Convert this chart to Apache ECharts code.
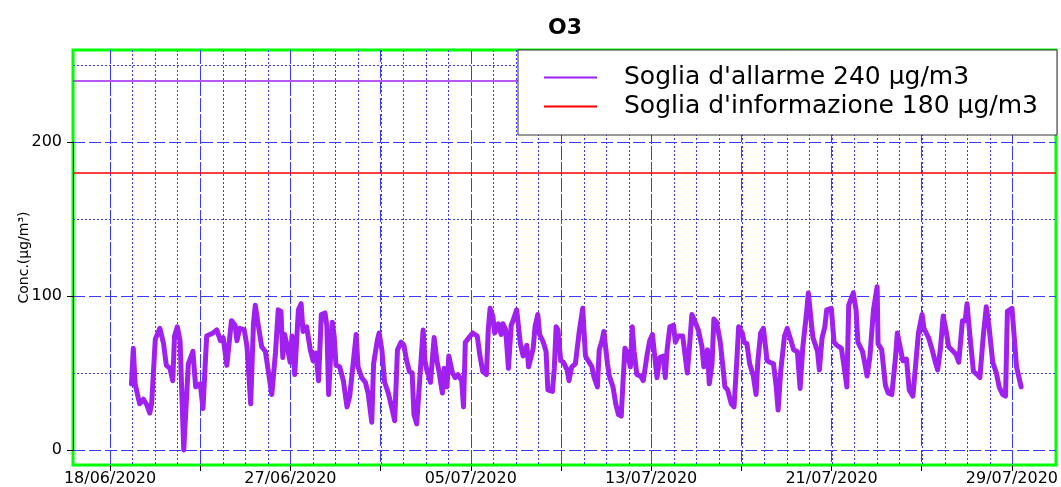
<!DOCTYPE html>
<html>
<head>
<meta charset="utf-8">
<title>O3</title>
<script src="https://cdn.jsdelivr.net/npm/echarts@6/dist/echarts.min.js"></script>
<style>
  html, body { margin: 0; padding: 0; background: #fff; }
  #chart { width: 1061px; height: 487px; }
</style>
</head>
<body>
<div id="chart"></div>
<script>
// ore trascorse dal 18/06/2020 00:00
const hours = [
  45, 47, 49, 52, 54, 58, 62, 65, 67, 71, 76, 80, 83, 87, 90, 92, 95, 98, 100, 102,
  107, 112, 115, 120, 123, 127, 134, 138, 142, 145, 149, 154, 158, 160, 163, 168, 171, 175, 178, 180,
  183, 187, 191, 194, 198, 202, 205, 208, 210, 212, 215, 218, 220, 223, 227, 230, 232, 236, 240, 243,
  246, 249, 252, 256, 258, 260, 264, 266, 268, 272, 276, 280, 283, 287, 290, 292, 296, 300, 303, 307,
  309, 313, 315, 318, 321, 325, 329, 332, 335, 339, 342, 345, 348, 351, 353, 356, 363, 365, 367, 371,
  373, 375, 378, 380, 384, 386, 389, 391, 395, 398, 401, 405, 407, 409, 413, 417, 422, 425, 428, 432,
  434, 436, 439, 441, 445, 448, 450, 453, 456, 459, 461, 465, 469, 472, 476, 478, 483, 485, 488, 490,
  494, 497, 499, 504, 506, 508, 510, 513, 516, 520, 522, 525, 529, 533, 537, 540, 543, 547, 549, 553,
  555, 558, 560, 564, 566, 570, 573, 576, 579, 581, 583, 585, 589, 591, 593, 596, 600, 603, 607, 610,
  613, 616, 618, 621, 625, 627, 629, 632, 636, 638, 641, 646, 651, 653, 656, 659, 663, 667, 669, 673,
  675, 678, 680, 683, 687, 690, 692, 695, 699, 702, 705, 707, 711, 713, 716, 719, 723, 726, 728, 731,
  734, 738, 741, 745, 748, 750, 753, 757, 760, 764, 767, 771, 774, 777, 781, 783, 786, 788, 793, 795,
  798, 801, 803, 808, 811, 814, 819, 822, 825, 827, 832, 835, 837, 842, 844, 847, 850, 854, 858, 859,
  863, 867, 870, 874, 878, 880, 883, 886, 890, 893, 897, 899, 903, 907, 909, 914, 918, 921, 924, 927,
  930, 933, 936, 941, 944, 947, 951, 954, 956, 959, 963, 967, 970, 974, 977, 980, 984, 988, 991, 995,
  998, 1000, 1005, 1007, 1010, 1012, 1015
]
// concentrazione O3 (µg/m3)
const o3 = [
  43, 66, 43, 35, 30, 33, 29, 24, 30, 72, 79, 69, 55, 53, 45, 74, 80, 71, 35, 0,
  56, 64, 41, 43, 27, 74, 76, 78, 71, 73, 55, 84, 81, 71, 79, 78, 67, 30, 82, 94,
  82, 67, 64, 52, 36, 63, 91, 90, 60, 75, 67, 57, 74, 49, 91, 95, 77, 80, 65, 58,
  63, 45, 88, 89, 81, 36, 83, 74, 55, 54, 45, 28, 35, 58, 75, 54, 47, 44, 37, 18,
  56, 71, 76, 65, 44, 37, 27, 19, 65, 70, 68, 58, 51, 50, 23, 17, 78, 58, 52, 44,
  43, 73, 58, 52, 37, 53, 41, 61, 50, 47, 49, 45, 28, 70, 73, 76, 74, 61, 51, 49,
  78, 92, 87, 76, 82, 75, 82, 78, 53, 81, 84, 91, 69, 61, 68, 54, 66, 80, 88, 75,
  70, 64, 39, 38, 53, 80, 78, 58, 57, 52, 45, 54, 56, 76, 92, 61, 58, 54, 48, 41,
  65, 71, 77, 56, 48, 41, 30, 23, 22, 45, 66, 64, 54, 80, 64, 49, 48, 45, 61, 71,
  75, 58, 47, 60, 61, 47, 65, 80, 81, 70, 74, 74, 50, 64, 88, 84, 78, 67, 54, 65,
  43, 56, 85, 83, 70, 53, 41, 39, 30, 28, 58, 80, 76, 70, 69, 56, 48, 36, 58, 76,
  79, 58, 57, 56, 41, 26, 52, 74, 79, 71, 65, 64, 40, 67, 89, 102, 84, 73, 64, 52,
  73, 80, 91, 92, 70, 68, 66, 54, 41, 94, 102, 91, 70, 64, 58, 48, 60, 91, 106, 69,
  65, 42, 37, 36, 60, 76, 67, 58, 59, 39, 35, 34, 76, 88, 79, 73, 65, 58, 52, 66,
  87, 78, 67, 64, 62, 57, 84, 84, 95, 75, 51, 49, 47, 76, 93, 80, 57, 50, 41, 36,
  35, 90, 92, 93, 54, 53, 41
]
const sogliaAllarme = 240
const sogliaInformazione = 180
const dateLabels = ['18/06/2020', '27/06/2020', '05/07/2020', '13/07/2020', '21/07/2020', '29/07/2020']

// asse x: prima etichetta a 21.6 h, passo 8.2 giorni
const firstTick = 21.6
const tickStep = 196.8
const lastTick = Math.round((firstTick + tickStep * (dateLabels.length - 1)) * 10) / 10

const gridColor = '#3a3aff'
const font = 'DejaVu Sans'

// griglia con le sole linee verticali (stesso rettangolo per i due assi)
const vGrid = { left: 110, right: 48.5, top: 50, bottom: 22 }

const chart = echarts.init(document.getElementById('chart'))

chart.setOption({
  animation: false,
  title: {
    text: 'O3',
    left: 565,
    top: 17,
    padding: 0,
    textAlign: 'center',
    textStyle: { fontFamily: font, fontSize: 22, fontWeight: 'bold', color: '#000' }
  },
  legend: {
    data: ["Soglia d'allarme 240 µg/m3", "Soglia d'informazione 180 µg/m3"],
    orient: 'vertical',
    left: 518,
    top: 50,
    z: 10,
    padding: [13, 19, 14, 26],
    itemGap: 0,
    itemWidth: 53,
    itemHeight: 2,
    icon: 'rect',
    backgroundColor: '#fff',
    borderColor: '#333',
    borderWidth: 1,
    selectedMode: false,
    textStyle: {
      fontFamily: font,
      fontSize: 25,
      lineHeight: 29,
      color: '#000',
      padding: [0, 0, 0, 22]
    }
  },
  grid: [
    // dati
    { left: 73, right: 5, top: 50, bottom: 22, show: true, borderColor: '#00ff00', borderWidth: 3 },
    // linee verticali punteggiate
    vGrid,
    // linee tratteggiate 0/100/200
    { left: 73, right: 5, top: 142, bottom: 37 },
    // linee punteggiate 50/150/250
    { left: 73, right: 5, top: 65, bottom: 114 },
    // linee verticali tratteggiate + date
    vGrid
  ],
  xAxis: [
    { gridIndex: 0, type: 'value', min: -18.74, max: 1053.0, show: false },
    {
      gridIndex: 1,
      type: 'value',
      min: firstTick,
      max: lastTick,
      interval: tickStep / 8,
      axisLine: { show: false },
      axisTick: { show: false },
      axisLabel: { show: false },
      splitLine: { show: true, lineStyle: { color: gridColor, type: [2, 2], width: 1 } }
    },
    { gridIndex: 2, type: 'value', show: false },
    { gridIndex: 3, type: 'value', show: false },
    {
      gridIndex: 4,
      type: 'value',
      min: firstTick,
      max: lastTick,
      interval: tickStep / 2,
      axisLine: { show: false },
      axisTick: { show: true, length: 6, lineStyle: { color: '#000' } },
      axisLabel: {
        formatter: (v, i) => (i % 2 === 0 ? dateLabels[i / 2] : ''),
        fontFamily: font,
        fontSize: 16,
        color: '#000',
        margin: 6
      },
      splitLine: { show: true, lineStyle: { color: gridColor, type: [12, 4], width: 1 } }
    }
  ],
  yAxis: [
    {
      gridIndex: 0,
      type: 'value',
      min: -9.74,
      max: 259.74,
      axisLine: { show: false },
      axisTick: { show: false },
      axisLabel: { show: false },
      splitLine: { show: false },
      name: 'Conc.(µg/m³)',
      nameLocation: 'middle',
      nameGap: 42,
      nameTextStyle: { fontFamily: font, fontSize: 14, color: '#000' }
    },
    { gridIndex: 1, type: 'value', show: false },
    {
      gridIndex: 2,
      type: 'value',
      min: 0,
      max: 200,
      interval: 100,
      axisLine: { show: true, lineStyle: { color: '#000', width: 1 } },
      axisTick: { show: true, length: 6, lineStyle: { color: '#000' } },
      axisLabel: { fontFamily: font, fontSize: 16, color: '#000', margin: 11 },
      splitLine: { show: true, lineStyle: { color: gridColor, type: [12, 4], width: 1 } }
    },
    {
      gridIndex: 3,
      type: 'value',
      min: 50,
      max: 250,
      interval: 100,
      axisLine: { show: false },
      axisTick: { show: false },
      axisLabel: { show: false },
      splitLine: { show: true, lineStyle: { color: gridColor, type: [2, 2], width: 1 } }
    },
    { gridIndex: 4, type: 'value', show: false }
  ],
  series: [
    {
      name: 'O3',
      type: 'line',
      xAxisIndex: 0,
      yAxisIndex: 0,
      data: hours.map((h, i) => [h, o3[i]]),
      showSymbol: false,
      symbol: 'none',
      lineStyle: { color: '#a020f0', width: 5, join: 'round', cap: 'round' },
      itemStyle: { color: '#a020f0' },
      z: 3
    },
    {
      name: "Soglia d'allarme 240 µg/m3",
      type: 'line',
      xAxisIndex: 0,
      yAxisIndex: 0,
      data: [],
      symbol: 'none',
      itemStyle: { color: '#a020f0' },
      markLine: {
        silent: true,
        symbol: 'none',
        z: 2,
        label: { show: false },
        lineStyle: { color: '#a020f0', type: 'solid', width: 1.5 },
        data: [{ yAxis: sogliaAllarme }]
      }
    },
    {
      name: "Soglia d'informazione 180 µg/m3",
      type: 'line',
      xAxisIndex: 0,
      yAxisIndex: 0,
      data: [],
      symbol: 'none',
      itemStyle: { color: '#ff0000' },
      markLine: {
        silent: true,
        symbol: 'none',
        z: 2,
        label: { show: false },
        lineStyle: { color: '#ff0000', type: 'solid', width: 1.5 },
        data: [{ yAxis: sogliaInformazione }]
      }
    }
  ]
})
</script>
</body>
</html>
